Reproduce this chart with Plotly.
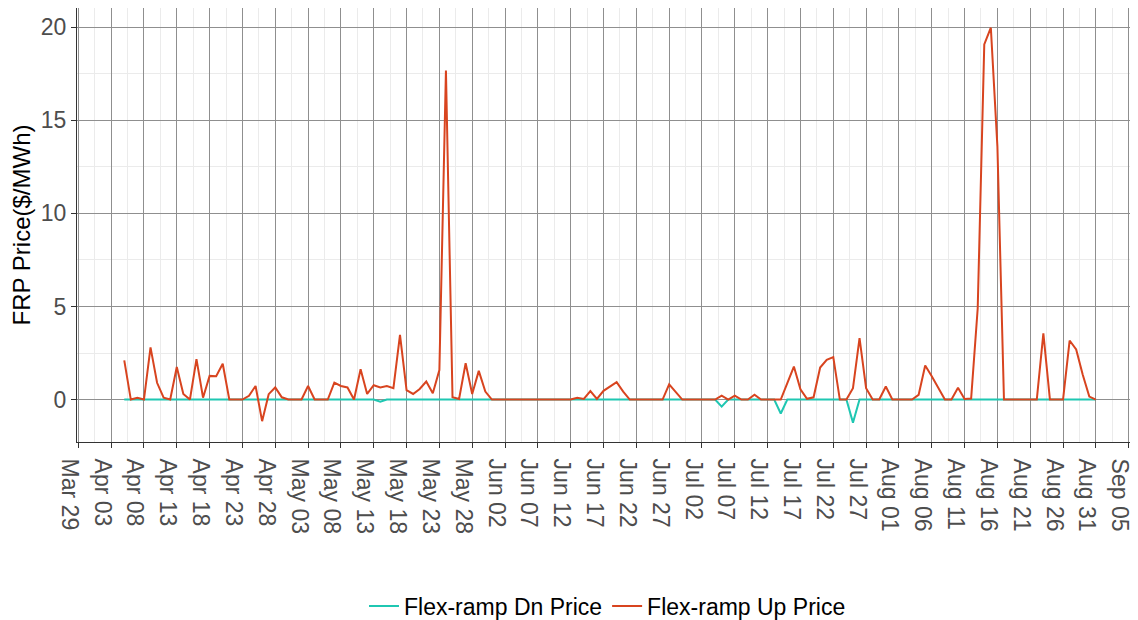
import plotly.graph_objects as go
import pandas as pd

# ---- data (daily, Apr 05 .. Aug 31) ----
start_date = "2020-04-05"
end_date = "2020-08-31"

up_price = [
    2.1, 0.0, 0.1, 0.0, 2.8, 0.9, 0.1, 0.0, 1.75, 0.3,          # 0-9
    0.0, 2.17, 0.1, 1.27, 1.25, 1.92, 0.0, 0.0, 0.0, 0.2,       # 10-19
    0.73, -1.16, 0.29, 0.65, 0.12, 0.0, 0.0, 0.0, 0.73, 0.0,    # 20-29
    0.0, 0.0, 0.91, 0.73, 0.65, 0.0, 1.63, 0.3, 0.77, 0.65,     # 30-39
    0.73, 0.61, 3.48, 0.5, 0.3, 0.57, 0.97, 0.34, 1.58, 17.67,  # 40-49
    0.12, 0.03, 1.95, 0.3, 1.54, 0.43, 0.0, 0.0, 0.0, 0.0,      # 50-59
    0.0, 0.0, 0.0, 0.0, 0.0, 0.0, 0.0, 0.0, 0.0, 0.1,           # 60-69
    0.03, 0.45, 0.03, 0.47, 0.68, 0.93, 0.43, 0.0, 0.0, 0.0,    # 70-79
    0.0, 0.0, 0.0, 0.82, 0.42, 0.0, 0.0, 0.0, 0.0, 0.0,         # 80-89
    0.0, 0.21, 0.0, 0.21, 0.0, 0.0, 0.26, 0.0, 0.0, 0.0,        # 90-99
    0.0, 0.88, 1.77, 0.55, 0.04, 0.12, 1.72, 2.13, 2.28, 0.0,   # 100-109
    0.0, 0.61, 3.3, 0.61, 0.0, 0.0, 0.7, 0.0, 0.0, 0.0,         # 110-119
    0.0, 0.25, 1.83, 1.25, 0.65, 0.0, 0.0, 0.63, 0.03, 0.05,    # 120-129
    4.9, 19.07, 19.97, 13.6, 0.0, 0.0, 0.0, 0.0, 0.0, 0.0,      # 130-139
    3.55, 0.0, 0.0, 0.0, 3.17, 2.69, 1.33, 0.16, 0.0,           # 140-148
]

dn_price = [0.0] * 149
dn_price[39] = -0.12
dn_price[91] = -0.38
dn_price[100] = -0.75
dn_price[111] = -1.24

dates = pd.date_range(start_date, end_date, freq="D")

series_names = ["Flex-ramp Dn Price", "Flex-ramp Up Price"]
series_colors = ["#1fc7b2", "#d8441f"]

fig = go.Figure()
fig.add_trace(go.Scatter(x=dates, y=dn_price, mode="lines", name=series_names[0],
                         line=dict(color=series_colors[0], width=2)))
fig.add_trace(go.Scatter(x=dates, y=up_price, mode="lines", name=series_names[1],
                         line=dict(color=series_colors[1], width=2)))

# page body has an 8px default margin, so the figure is sized to the visible area
FIG_W, FIG_H = 1130, 612
PLOT_L, PLOT_T, PLOT_B = 69, 0, 434

px_per_day = 6.565
first_tick = pd.Timestamp("2020-03-29")
x_left = first_tick - pd.Timedelta(days=1.3 / px_per_day)
x_right = x_left + pd.Timedelta(days=(FIG_W - PLOT_L) / px_per_day)

DAY_MS = 86400000
major_grid = "#8f8f8f"
minor_grid = "#ebebeb"
tick_col = "#4d4d4d"

fig.update_layout(
    width=FIG_W, height=FIG_H,
    margin=dict(l=PLOT_L, r=0, t=PLOT_T, b=FIG_H - PLOT_B, autoexpand=False),
    paper_bgcolor="white", plot_bgcolor="white",
    font=dict(family="Liberation Sans, Arial, sans-serif", size=23, color="black"),
    showlegend=True,
    legend=dict(orientation="h", x=0.5, xanchor="center", xref="paper",
                y=(PLOT_B - 598) / (PLOT_B - PLOT_T), yref="paper", yanchor="middle",
                font=dict(size=23, color="black"), itemwidth=30,
                tracegroupgap=0),
    xaxis=dict(
        type="date", range=[x_left, x_right], automargin=False,
        tick0=first_tick, dtick=5 * DAY_MS, tickformat="%b %d",
        tickangle=90, ticks="outside", ticklen=5, tickcolor="#333333",
        tickfont=dict(size=23, color=tick_col),
        ticklabelshift=-9, ticklabelstandoff=6,
        showgrid=True, gridcolor=major_grid, gridwidth=1,
        minor=dict(dtick=2.5 * DAY_MS, tick0=first_tick, showgrid=True,
                   gridcolor=minor_grid, gridwidth=1),
        showline=True, linecolor="#333333", linewidth=1, mirror=True,
        zeroline=False,
    ),
    yaxis=dict(
        range=[-2.28, 21.03], automargin=False,
        tick0=0, dtick=5, ticks="outside", ticklen=5, tickcolor="#333333",
        tickfont=dict(size=23, color=tick_col),
        showgrid=True, gridcolor=major_grid, gridwidth=1,
        minor=dict(dtick=2.5, tick0=0, showgrid=True, gridcolor=minor_grid, gridwidth=1),
        showline=True, linecolor="#333333", linewidth=1, mirror=True,
        zeroline=False,
        title=dict(text="FRP Price($/MWh)", font=dict(size=24, color="black"), standoff=3),
    ),
)

fig.write_html("out.html")
